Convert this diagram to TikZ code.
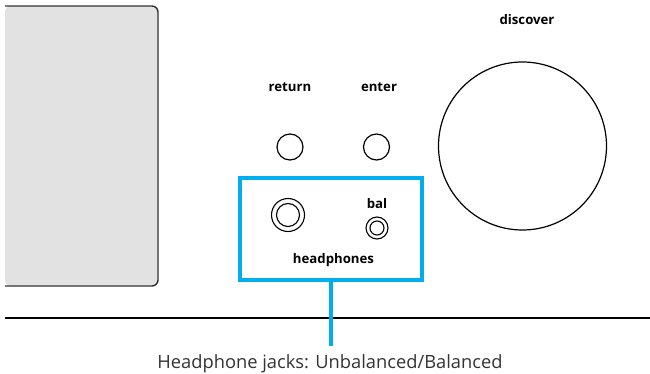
\documentclass[tikz,border=0pt]{standalone}
\usepackage{fontspec}
\setmainfont{Open Sans}
\begin{document}
\begin{tikzpicture}[x=1pt,y=-1pt,
  lbl/.style={font=\bfseries\fontsize{13.2}{15}\selectfont, text=black, inner sep=0pt, anchor=base},
  knob/.style={circle, draw=black, line width=1.2pt, inner sep=0pt},
  jackring/.style={circle, draw=black, line width=1.1pt, inner sep=0pt},
  hilite/.style={draw=cyanblue, line width=3.5pt}]
\definecolor{cyanblue}{HTML}{00AEEF}
\definecolor{panel}{HTML}{E2E2E2}
\definecolor{edge}{HTML}{333333}
\useasboundingbox (0,0) rectangle (650,374);

% display panel
\fill[panel, rounded corners=6pt] (5,6) rectangle (158,286);
\draw[edge, line width=1.4pt, rounded corners=6pt] (5,6) -- (158,6) -- (158,286) -- (5,286);

% return / enter buttons
\node[lbl] (retlbl) at (290,92) {return};
\node[lbl] (entlbl) at (379,92) {enter};
\node[knob, minimum size=26pt] (retbtn) at (290,147) {};
\node[knob, minimum size=26pt] (entbtn) at (376.5,147) {};

% discover knob
\node[lbl] (dislbl) at (527,25) {discover};
\node[knob, minimum size=168pt] (disknob) at (522.5,146) {};

% headphone area
\node[hilite, minimum width=182pt, minimum height=102pt, inner sep=0pt] (hp) at (331,229) {};
\node[jackring, minimum size=33pt] (ubjack) at (288,215) {};
\node[jackring, minimum size=23pt] at (ubjack) {};
\node[jackring, minimum size=22pt] (baljack) at (377,228) {};
\node[jackring, minimum size=14pt] at (baljack) {};
\node[lbl] (ballbl) at (377,208) {bal};
\node[lbl] (hplbl) at (333.5,263) {headphones};

% front edge line
\coordinate (edgeL) at (5,318);
\coordinate (edgeR) at (650,318);
\draw[black, line width=1.2pt] (edgeL) -- (edgeR);

% callout
\coordinate (stemend) at (331,346);
\draw[cyanblue, line width=3.5pt] (hp.south) -- (stemend);
\node[font=\fontsize{18.3}{20}\selectfont, text=edge, inner sep=0pt, anchor=base] (caption) at (330,368) {Headphone jacks: Unbalanced/Balanced};
\end{tikzpicture}
\end{document}
